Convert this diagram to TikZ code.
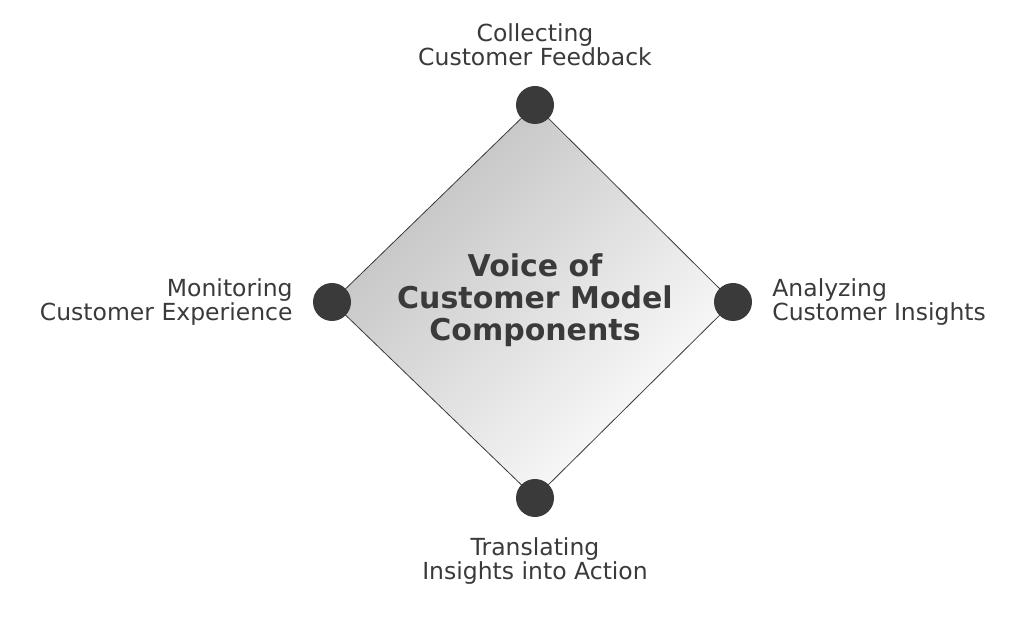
\documentclass[tikz,border=0pt]{standalone}
\usepackage{fontspec}
\setmainfont{DejaVu Sans}
\usetikzlibrary{positioning}
\definecolor{ink}{HTML}{3A3A3A}
\tikzset{
  dot/.style={circle,fill=ink,minimum size=38pt,inner sep=0pt},
  lbl/.style={text=ink,font=\fontsize{23.5}{24}\selectfont,inner sep=0pt}
}
\begin{document}
\begin{tikzpicture}[x=1pt,y=1pt]
  \useasboundingbox (0,0) rectangle (1024,616);
  % corners of the diamond
  \coordinate (t) at (535,511);
  \coordinate (r) at (733,314);
  \coordinate (b) at (535,118);
  \coordinate (l) at (332,314);
  \shade[top color=black!25,bottom color=white,shading angle=45] (t) -- (r) -- (b) -- (l) -- cycle;
  \draw[ink,line width=0.8pt] (t) -- (r) -- (b) -- (l) -- cycle;
  \node[text=ink,font=\bfseries\fontsize{30}{32}\selectfont,align=center] (title) at (535,316)
    {Voice of\\Customer Model\\Components};
  % dots
  \node[dot] (top) at (t) {};
  \node[dot] (right) at (r) {};
  \node[dot] (bottom) at (b) {};
  \node[dot] (left) at (l) {};
  % labels
  \node[lbl,align=center,above=20pt of top] {Collecting\\Customer Feedback};
  \node[lbl,align=left,right=20pt of right] {Analyzing\\Customer Insights};
  \node[lbl,align=center,below=20pt of bottom] {Translating\\Insights into Action};
  \node[lbl,align=right,left=20pt of left] {Monitoring\\Customer Experience};
\end{tikzpicture}
\end{document}
